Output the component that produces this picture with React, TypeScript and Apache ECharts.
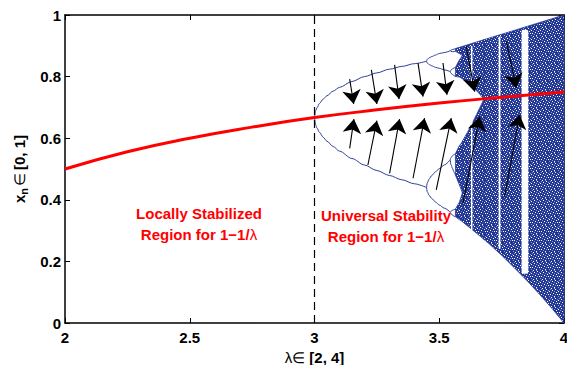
import React, { useEffect, useRef } from "react";
import * as echarts from "echarts";

// ---------- axes ----------
const X_TICKS = [2, 2.5, 3, 3.5, 4];
const Y_TICKS = [0, 0.2, 0.4, 0.6, 0.8, 1];

// ---------- red curve (fixed point 1-1/λ) ----------
const RED_LAMBDA = [2, 2.25, 2.5, 2.75, 3, 3.25, 3.5, 3.75, 4];
const RED_X = [0.5, 0.556, 0.6, 0.636, 0.667, 0.692, 0.714, 0.733, 0.75];

// ---------- period-2 branches ----------
const P2_LAMBDA = [3, 3.005, 3.01, 3.02, 3.035, 3.05, 3.075, 3.1, 3.15, 3.2, 3.25, 3.3, 3.35, 3.4, 3.449];
const P2_UPPER = [0.667, 0.69, 0.699, 0.713, 0.727, 0.738, 0.753, 0.765, 0.784, 0.8, 0.812, 0.824, 0.833, 0.842, 0.85];
const P2_LOWER = [0.667, 0.643, 0.633, 0.619, 0.603, 0.59, 0.573, 0.558, 0.534, 0.513, 0.495, 0.479, 0.465, 0.452, 0.44];

// ---------- period-4 branches ----------
const P4_LAMBDA = [3.449, 3.452, 3.46, 3.47, 3.485, 3.5, 3.52, 3.544];
const P4_A = [0.85, 0.856, 0.861, 0.865, 0.87, 0.875, 0.878, 0.884];
const P4_B = [0.85, 0.844, 0.839, 0.835, 0.83, 0.827, 0.822, 0.816];
const P4_C = [0.44, 0.455, 0.468, 0.479, 0.491, 0.501, 0.513, 0.53];
const P4_D = [0.44, 0.426, 0.414, 0.404, 0.393, 0.383, 0.373, 0.36];

// ---------- period-8 branches ----------
const P8_LAMBDA = [3.544, 3.547, 3.553, 3.559, 3.565];
const P8_BRANCHES = [
  [0.884, 0.886, 0.888, 0.889, 0.891],
  [0.884, 0.882, 0.881, 0.881, 0.882],
  [0.816, 0.821, 0.825, 0.828, 0.83],
  [0.816, 0.811, 0.807, 0.803, 0.8],
  [0.53, 0.537, 0.543, 0.547, 0.55],
  [0.53, 0.514, 0.502, 0.49, 0.48],
  [0.36, 0.363, 0.366, 0.368, 0.37],
  [0.36, 0.355, 0.35, 0.347, 0.345],
];

// ---------- chaotic bands: [λ, lower, upper] ----------
const BAND_4A = [[3.565, 0.882, 0.891], [3.58, 0.875, 0.895], [3.5945, 0.868, 0.898]];
const BAND_4B = [[3.565, 0.8, 0.83], [3.58, 0.799, 0.853], [3.5945, 0.793, 0.87]];
const BAND_4C = [[3.565, 0.48, 0.55], [3.58, 0.45, 0.575], [3.5945, 0.42, 0.59]];
const BAND_4D = [[3.565, 0.345, 0.37], [3.58, 0.336, 0.391], [3.5945, 0.329, 0.425]];
const BAND_2U = [[3.5925, 0.793, 0.898], [3.62, 0.776, 0.905], [3.65, 0.754, 0.9125], [3.681, 0.726, 0.9203]];
const BAND_2L = [[3.5925, 0.329, 0.59], [3.62, 0.311, 0.629], [3.65, 0.291, 0.678], [3.681, 0.27, 0.73]];
const BAND_1 = [
  [3.6786, 0.272, 0.9197], [3.7, 0.257, 0.925], [3.75, 0.22, 0.9375], [3.8, 0.18, 0.95],
  [3.85, 0.139, 0.9625], [3.9, 0.095, 0.975], [3.95, 0.049, 0.9875], [4, 0, 1],
];
const BANDS = [BAND_4A, BAND_4B, BAND_4C, BAND_4D, BAND_2U, BAND_2L, BAND_1];

// ---------- periodic windows (white strips): [λ0, λ1, lower, upper] ----------
const WINDOWS = [
  [3.627, 3.633, 0.3, 0.9],
  [3.738, 3.745, 0.24, 0.93],
  [3.83, 3.857, 0.16, 0.952],
];

// ---------- arrows: [[λ start, x start], [λ end, x end]] ----------
const ARROWS_DOWN = [
  [[3.141, 0.792], [3.157, 0.711]],
  [[3.228, 0.822], [3.25, 0.711]],
  [[3.321, 0.838], [3.339, 0.727]],
  [[3.415, 0.844], [3.435, 0.735]],
  [[3.515, 0.844], [3.531, 0.741]],
  [[3.608, 0.898], [3.642, 0.751]],
  [[3.769, 0.914], [3.809, 0.763]],
];
const ARROWS_UP = [
  [[3.141, 0.567], [3.158, 0.662]],
  [[3.214, 0.513], [3.25, 0.657]],
  [[3.301, 0.486], [3.341, 0.662]],
  [[3.395, 0.47], [3.441, 0.665]],
  [[3.488, 0.432], [3.548, 0.665]],
  [[3.595, 0.388], [3.662, 0.67]],
  [[3.762, 0.41], [3.822, 0.676]],
];

const FONT = "'Liberation Sans', Arial, Helvetica, sans-serif";
const BLUE = "#2a3f98";
const BRANCH_BLUE = "#2c4099";

function zip(a: number[], b: number[]) {
  return a.map((v, i) => [v, b[i]]);
}

// speckle texture tile (fixed hand-made pattern, purely decorative styling)
const TILE = [
  "BBwBBlBBB",
  "BlBBBBwBB",
  "BBBwBBBBl",
  "wBBBBlBBB",
  "BBlBBBBwB",
  "BBBBwBBBB",
  "BwBBBBlBw",
  "BBBlBBBBB",
  "lBBBBwBBB",
];

function makeTexture(): any {
  try {
    const c = document.createElement("canvas");
    const px = 1;
    c.width = TILE[0].length * px;
    c.height = TILE.length * px;
    const ctx = c.getContext("2d");
    if (!ctx) return BLUE;
    TILE.forEach((row, j) => {
      row.split("").forEach((ch, i) => {
        ctx.fillStyle = ch === "w" ? "#ffffff" : ch === "l" ? "#8796d0" : "#223794";
        ctx.fillRect(i * px, j * px, px, px);
      });
    });
    return { image: c.toDataURL("image/png"), repeat: "repeat" };
  } catch (e) {
    return BLUE;
  }
}

export default function App() {
  const ref = useRef<HTMLDivElement>(null);

  useEffect(() => {
    if (!ref.current) return;
    const chart = echarts.init(ref.current, null, { renderer: "svg" });
    const texture = makeTexture();

    const branchSeries = [
      zip(P2_LAMBDA, P2_UPPER),
      zip(P2_LAMBDA, P2_LOWER),
      zip(P4_LAMBDA, P4_A),
      zip(P4_LAMBDA, P4_B),
      zip(P4_LAMBDA, P4_C),
      zip(P4_LAMBDA, P4_D),
      ...P8_BRANCHES.map((b) => zip(P8_LAMBDA, b)),
    ].map((d) => ({
      type: "line",
      data: d,
      showSymbol: false,
      smooth: 0.3,
      smoothMonotone: "x",
      lineStyle: { color: BRANCH_BLUE, width: 1 },
      z: 3,
      silent: true,
    }));

    const axisCommon = {
      type: "value",
      splitLine: { show: false },
      axisLine: { show: true, onZero: false, lineStyle: { color: "#000", width: 1.5 } },
      axisTick: { show: true, inside: true, length: 5, lineStyle: { color: "#000", width: 1 } },
    };

    const option: any = {
      animation: false,
      backgroundColor: "#fff",
      grid: { left: 65, right: 3, top: 15, bottom: 42, containLabel: false, outerBoundsMode: "none" },
      xAxis: [
        {
          ...axisCommon,
          position: "bottom",
          min: X_TICKS[0],
          max: X_TICKS[X_TICKS.length - 1],
          interval: X_TICKS[1] - X_TICKS[0],
          axisLabel: { color: "#000", fontWeight: "bold", fontSize: 15, fontFamily: FONT, margin: 7 },
          name: "{l|λ∈ }{b|[2, 4]}",
          nameLocation: "middle",
          nameGap: 25,
          nameTextStyle: {
            rich: {
              l: { fontSize: 15, fontFamily: FONT, color: "#000" },
              b: { fontSize: 15, fontWeight: "bold", fontFamily: FONT, color: "#000" },
            },
          },
        },
        {
          ...axisCommon,
          position: "top",
          min: X_TICKS[0],
          max: X_TICKS[X_TICKS.length - 1],
          interval: X_TICKS[1] - X_TICKS[0],
          axisLabel: { show: false },
        },
      ],
      yAxis: [
        {
          ...axisCommon,
          position: "left",
          min: Y_TICKS[0],
          max: Y_TICKS[Y_TICKS.length - 1],
          interval: Y_TICKS[1] - Y_TICKS[0],
          axisLabel: { color: "#000", fontWeight: "bold", fontSize: 15, fontFamily: FONT, margin: 4 },
          name: "{b|x}{s|n}{l|∈}{b|[0, 1]}",
          nameLocation: "middle",
          nameGap: 33,
          nameRotate: 90,
          nameTextStyle: {
            rich: {
              b: { fontSize: 15, fontWeight: "bold", fontFamily: FONT, color: "#000", lineHeight: 20, verticalAlign: "middle" },
              s: { fontSize: 11, fontWeight: "bold", fontFamily: FONT, color: "#000", lineHeight: 20, verticalAlign: "bottom", padding: [0, 1, 0, 0] },
              l: { fontSize: 15, fontFamily: FONT, color: "#000", lineHeight: 20, verticalAlign: "middle", padding: [0, 3, 0, 1] },
            },
          },
        },
        {
          ...axisCommon,
          position: "right",
          min: Y_TICKS[0],
          max: Y_TICKS[Y_TICKS.length - 1],
          interval: Y_TICKS[1] - Y_TICKS[0],
          axisLabel: { show: false },
        },
      ],
      series: [
        {
          type: "custom",
          coordinateSystem: "cartesian2d",
          data: BANDS.map((b) => [b[0][0], b[0][1]]),
          silent: true,
          z: 1,
          renderItem: (params: any, api: any) => {
            const b = BANDS[params.dataIndex];
            const top = b.map((p) => api.coord([p[0], p[2]]));
            const bot = b.slice().reverse().map((p) => api.coord([p[0], p[1]]));
            return {
              type: "polygon",
              shape: { points: top.concat(bot) },
              style: { fill: texture, stroke: "#233895", lineWidth: 0.8 },
            };
          },
        },
        {
          type: "custom",
          coordinateSystem: "cartesian2d",
          data: WINDOWS.map((w) => [w[0], w[2]]),
          silent: true,
          z: 2,
          renderItem: (params: any, api: any) => {
            const w = WINDOWS[params.dataIndex];
            const p0 = api.coord([w[0], w[3]]);
            const p1 = api.coord([w[1], w[2]]);
            return {
              type: "rect",
              shape: { x: p0[0], y: p0[1], width: p1[0] - p0[0], height: p1[1] - p0[1], r: 2 },
              style: { fill: "#ffffff" },
            };
          },
        },
        ...branchSeries,
        {
          type: "line",
          data: zip(RED_LAMBDA, RED_X),
          showSymbol: false,
          smooth: true,
          lineStyle: { color: "#ff0000", width: 3 },
          z: 4,
          silent: true,
          markLine: {
            silent: true,
            symbol: ["none", "none"],
            label: { show: false },
            lineStyle: { color: "#000", width: 1.2, type: [8, 5] },
            data: [[{ coord: [3, 0] }, { coord: [3, 1] }]],
          },
        },
        {
          type: "lines",
          coordinateSystem: "cartesian2d",
          data: [...ARROWS_DOWN, ...ARROWS_UP].map((c) => ({ coords: c })),
          symbol: ["none", "arrow"],
          symbolSize: 14,
          lineStyle: { color: "#000", width: 1.1, opacity: 1 },
          itemStyle: { color: "#000" },
          z: 5,
          silent: true,
        },
      ],
      graphic: [
        {
          type: "text",
          x: 199,
          y: 224,
          z: 10,
          style: {
            text: "{b|Locally Stabilized}\n{b|Region for 1−1/}{l|λ}",
            align: "center",
            verticalAlign: "middle",
            rich: {
              b: { fontSize: 15, fontWeight: "bold", fontFamily: FONT, fill: "#ff0000", lineHeight: 21 },
              l: { fontSize: 15, fontFamily: FONT, fill: "#ff0000", lineHeight: 21 },
            },
          },
        },
        {
          type: "text",
          x: 386,
          y: 226,
          z: 10,
          style: {
            text: "{b|Universal Stability}\n{b|Region for 1−1/}{l|λ}",
            align: "center",
            verticalAlign: "middle",
            rich: {
              b: { fontSize: 15, fontWeight: "bold", fontFamily: FONT, fill: "#ff0000", lineHeight: 21 },
              l: { fontSize: 15, fontFamily: FONT, fill: "#ff0000", lineHeight: 21 },
            },
          },
        },
      ],
    };

    chart.setOption(option);
    return () => chart.dispose();
  }, []);

  return <div ref={ref} style={{ position: "absolute", left: 0, top: 0, width: 567, height: 365 }} />;
}
